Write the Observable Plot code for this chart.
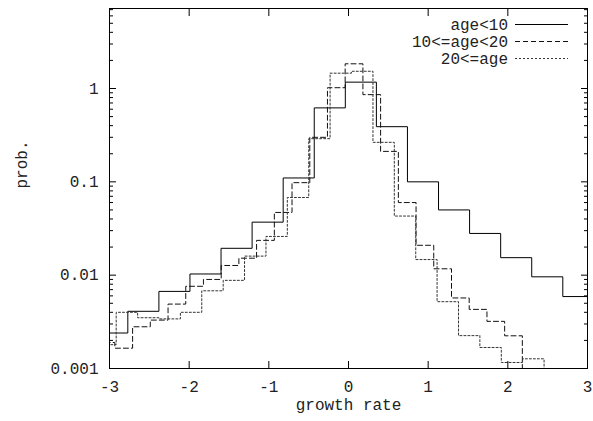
<!DOCTYPE html>
<html><head><meta charset="utf-8">
<script src="https://cdn.jsdelivr.net/npm/d3@7"></script>
<script src="https://cdn.jsdelivr.net/npm/@observablehq/plot@0.6"></script>
<style>
html,body{margin:0;padding:0;background:#fff;}
#wrap{position:relative;width:593px;height:421px;overflow:hidden;}
#legend{position:absolute;left:0;top:0;pointer-events:none;}
</style></head><body>
<div id="wrap"></div>
<script>
// ---- data ----
const ageLt10Edges = [-3.16,-2.77,-2.38,-1.99,-1.60,-1.21,-0.82,-0.43,-0.04,0.35,0.74,1.13,1.52,1.91,2.30,2.69,3.08];
const ageLt10Values = [0.0024,0.0041,0.0067,0.0103,0.0194,0.037,0.11,0.62,1.17,0.39,0.10,0.050,0.028,0.0154,0.0096,0.0059];

const age10to20Edges = [-3.155,-2.933,-2.710,-2.488,-2.265,-2.043,-1.821,-1.598,-1.376,-1.154,-0.931,-0.709,-0.486,-0.264,-0.042,0.181,0.403,0.626,0.848,1.070,1.293,1.515,1.738,1.960,2.182];
const age10to20Values = [0.0019,0.00165,0.0028,0.0033,0.0049,0.0076,0.0090,0.0127,0.0152,0.0236,0.047,0.098,0.30,1.02,1.84,0.86,0.212,0.060,0.0209,0.0117,0.0057,0.0043,0.0032,0.00224];

const age20upEdges = [-3.184,-2.916,-2.647,-2.379,-2.110,-1.842,-1.573,-1.305,-1.036,-0.768,-0.499,-0.231,0.038,0.307,0.575,0.844,1.112,1.381,1.649,1.918,2.186,2.455];
const age20upValues = [0.0018,0.0040,0.0035,0.0034,0.0040,0.0068,0.0088,0.016,0.026,0.068,0.29,1.46,1.53,0.265,0.043,0.0147,0.0052,0.00225,0.00168,0.00116,0.00127];

const seriesLabels = ["age<10", "10<=age<20", "20<=age"];

const xTicks = [-3,-2,-1,0,1,2,3];
const xTickLabels = ["-3","-2","-1","0","1","2","3"];
const yTicks = [0.001,0.01,0.1,1];
const yTickLabels = ["0.001","0.01","0.1","1"];
const yMinorTicks = [0.002,0.003,0.004,0.005,0.006,0.007,0.008,0.009,
                     0.02,0.03,0.04,0.05,0.06,0.07,0.08,0.09,
                     0.2,0.3,0.4,0.5,0.6,0.7,0.8,0.9,
                     2,3,4,5,6,7];
const xLabel = "growth rate";
const yLabel = "prob.";

// ---- styles ----
const styles = [
  {stroke: "#000", dash: null},
  {stroke: "#111", dash: "5,3"},
  {stroke: "#333", dash: "2,2"}
];
const FLOOR = 1e-5; // below the axis, so the last bin drops to the frame

function stepPoints(edges, values) {
  const n = values.length;
  const pts = values.map((v, i) => ({x: edges[i], y: v}));
  pts.push({x: edges[n], y: values[n - 1]});
  pts.push({x: edges[n], y: FLOOR});
  return pts;
}
const seriesData = [
  stepPoints(ageLt10Edges, ageLt10Values),
  stepPoints(age10to20Edges, age10to20Values),
  stepPoints(age20upEdges, age20upValues)
];

const font = '"Liberation Mono", "DejaVu Sans Mono", monospace';

const chart = Plot.plot({
  width: 593, height: 421,
  marginLeft: 109, marginRight: 6, marginTop: 8, marginBottom: 53,
  style: {fontFamily: font, fontSize: "16px", color: "#222", background: "#fff"},
  x: {domain: [-3, 3]},
  y: {type: "log", domain: [0.001, 7.2]},
  marks: [
    ...seriesData.map((d, i) => Plot.line(d, {
      x: "x", y: "y", curve: "step-after", clip: true,
      stroke: styles[i].stroke, strokeWidth: 1,
      strokeDasharray: styles[i].dash
    })),
    Plot.frame({stroke: "#000", strokeWidth: 1}),
    Plot.axisY(yTicks, {anchor: "left", tickSize: 0, tickPadding: 11, tickFormat: d => yTickLabels[yTicks.indexOf(d)], label: null}),
    Plot.axisY(yTicks, {anchor: "left", tickSize: -7, fill: "none", stroke: "#000", label: null}),
    Plot.axisY(yTicks, {anchor: "right", tickSize: -7, fill: "none", stroke: "#000", label: null}),
    Plot.axisY(yMinorTicks, {anchor: "left", tickSize: -4, fill: "none", stroke: "#000", label: null}),
    Plot.axisY(yMinorTicks, {anchor: "right", tickSize: -4, fill: "none", stroke: "#000", label: null}),
    Plot.axisX(xTicks, {anchor: "bottom", tickSize: 0, tickPadding: 12, tickFormat: d => xTickLabels[xTicks.indexOf(d)], label: null}),
    Plot.axisX(xTicks, {anchor: "bottom", tickSize: -7, fill: "none", stroke: "#000", label: null}),
    Plot.axisX(xTicks, {anchor: "top", tickSize: -7, fill: "none", stroke: "#000", label: null}),
    Plot.text([yLabel], {text: d => d, frameAnchor: "left", dx: -88, rotate: -90, fill: "#222"}),
    Plot.text([xLabel], {text: d => d, frameAnchor: "bottom", dy: 41, fill: "#222"})
  ]
});
const wrap = document.getElementById("wrap");
wrap.appendChild(chart);

// ---- legend (inside the frame, top right) ----
const legend = d3.select(wrap).append("svg")
  .attr("id", "legend").attr("width", 593).attr("height", 421);
const rowY = [24, 41, 58];
seriesLabels.forEach((lab, i) => {
  legend.append("text")
    .attr("x", 508).attr("y", rowY[i]).attr("dy", "0.35em")
    .attr("text-anchor", "end")
    .attr("font-family", font).attr("font-size", 16).attr("fill", "#222")
    .text(lab);
  legend.append("line")
    .attr("x1", 515).attr("x2", 568).attr("y1", rowY[i] + 0.5).attr("y2", rowY[i] + 0.5)
    .attr("stroke", styles[i].stroke).attr("stroke-width", 1)
    .attr("stroke-dasharray", styles[i].dash);
});
</script>
</body></html>
